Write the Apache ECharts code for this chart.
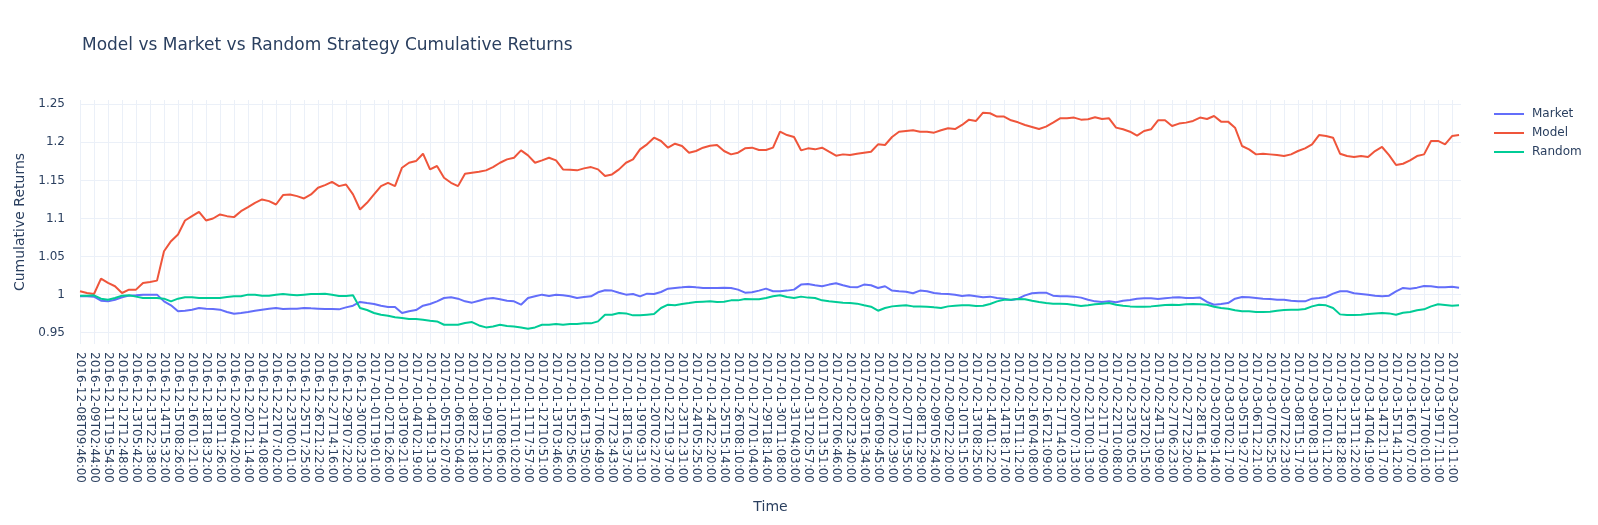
<!DOCTYPE html>
<html>
<head>
<meta charset="utf-8">
<script src="https://cdn.jsdelivr.net/npm/echarts@6/dist/echarts.min.js"></script>
<style>
html,body{margin:0;padding:0;background:#fff;}
#chart{width:1598px;height:525px;}
</style>
</head>
<body>
<div id="chart"></div>
<script>
const tickLabels = [
"2016-12-08T09:46:00","2016-12-09T02:44:00","2016-12-11T19:54:00","2016-12-12T12:48:00","2016-12-13T05:42:00",
"2016-12-13T22:38:00","2016-12-14T15:32:00","2016-12-15T08:26:00","2016-12-16T01:21:00","2016-12-18T18:32:00",
"2016-12-19T11:26:00","2016-12-20T04:20:00","2016-12-20T21:14:00","2016-12-21T14:08:00","2016-12-22T07:02:00",
"2016-12-23T00:01:00","2016-12-25T17:25:00","2016-12-26T21:22:00","2016-12-27T14:16:00","2016-12-29T07:22:00",
"2016-12-30T00:23:00","2017-01-01T19:01:00","2017-01-02T16:26:00","2017-01-03T09:21:00","2017-01-04T02:19:00",
"2017-01-04T19:13:00","2017-01-05T12:07:00","2017-01-06T05:04:00","2017-01-08T22:18:00","2017-01-09T15:12:00",
"2017-01-10T08:06:00","2017-01-11T01:02:00","2017-01-11T17:57:00","2017-01-12T10:51:00","2017-01-13T03:46:00",
"2017-01-15T20:56:00","2017-01-16T13:50:00","2017-01-17T06:49:00","2017-01-17T23:43:00","2017-01-18T16:37:00",
"2017-01-19T09:31:00","2017-01-20T02:27:00","2017-01-22T19:37:00","2017-01-23T12:31:00","2017-01-24T05:25:00",
"2017-01-24T22:20:00","2017-01-25T15:14:00","2017-01-26T08:10:00","2017-01-27T01:04:00","2017-01-29T18:14:00",
"2017-01-30T11:08:00","2017-01-31T04:03:00","2017-01-31T20:57:00","2017-02-01T13:51:00","2017-02-02T06:46:00",
"2017-02-02T23:40:00","2017-02-03T16:34:00","2017-02-06T09:45:00","2017-02-07T02:39:00","2017-02-07T19:35:00",
"2017-02-08T12:29:00","2017-02-09T05:24:00","2017-02-09T22:20:00","2017-02-10T15:15:00","2017-02-13T08:25:00",
"2017-02-14T01:22:00","2017-02-14T18:17:00","2017-02-15T11:12:00","2017-02-16T04:08:00","2017-02-16T21:09:00",
"2017-02-17T14:03:00","2017-02-20T07:13:00","2017-02-21T00:13:00","2017-02-21T17:09:00","2017-02-22T10:08:00",
"2017-02-23T03:05:00","2017-02-23T20:15:00","2017-02-24T13:09:00","2017-02-27T06:23:00","2017-02-27T23:20:00",
"2017-02-28T16:14:00","2017-03-02T09:14:00","2017-03-03T02:17:00","2017-03-05T19:27:00","2017-03-06T12:21:00",
"2017-03-07T05:25:00","2017-03-07T22:23:00","2017-03-08T15:17:00","2017-03-09T08:13:00","2017-03-10T01:12:00",
"2017-03-12T18:28:00","2017-03-13T11:22:00","2017-03-14T04:19:00","2017-03-14T21:17:00","2017-03-15T14:12:00",
"2017-03-16T07:07:00","2017-03-17T00:01:00","2017-03-19T17:11:00","2017-03-20T10:11:00"
];

// samples every half tick-label interval, starting at the first label
const sampleStep = 0.5;

const market = [
0.9978,0.9978,0.9974,0.9921,0.9912,0.9934,0.9965,0.9987,0.9991,1.0,
1.0,1.0,0.9912,0.986,0.9781,0.9789,0.9803,0.9825,0.9816,0.9811,
0.9803,0.9772,0.975,0.9759,0.9772,0.9789,0.9803,0.9816,0.9825,0.9811,
0.9816,0.9816,0.9825,0.982,0.9816,0.9811,0.9811,0.9807,0.9833,0.9855,
0.9904,0.989,0.9877,0.9855,0.9838,0.9838,0.9759,0.9781,0.9798,0.9855,
0.9877,0.9912,0.9956,0.9965,0.9947,0.9912,0.9895,0.9921,0.9947,0.9956,
0.9939,0.9921,0.9912,0.9868,0.9956,0.9978,1.0,0.9982,1.0,0.9991,
0.9978,0.9956,0.9969,0.9978,1.0031,1.0057,1.0053,1.0026,1.0,1.0009,
0.9978,1.0013,1.0009,1.0035,1.0079,1.0088,1.0096,1.0105,1.0096,1.0088,
1.0088,1.0088,1.0092,1.0088,1.0066,1.0026,1.0031,1.0053,1.0079,1.0044,
1.0044,1.0053,1.0066,1.0132,1.014,1.0123,1.011,1.0132,1.0149,1.0123,
1.0101,1.0096,1.0132,1.0123,1.0088,1.011,1.0053,1.0044,1.0039,1.0018,
1.0053,1.0044,1.0022,1.0013,1.0009,1.0,0.9982,0.9991,0.9978,0.9965,
0.9974,0.9956,0.9947,0.993,0.9947,0.9991,1.0018,1.0026,1.0026,0.9987,
0.9978,0.9978,0.9974,0.9961,0.9934,0.9912,0.9904,0.9912,0.9899,0.9921,
0.993,0.9947,0.9952,0.9952,0.9943,0.9952,0.9961,0.9965,0.9956,0.9956,
0.9961,0.9904,0.9868,0.9877,0.989,0.9947,0.9969,0.9965,0.9956,0.9947,
0.9943,0.9934,0.9934,0.9921,0.9912,0.9912,0.9947,0.9956,0.9969,1.0013,
1.0044,1.0044,1.0018,1.0009,1.0,0.9987,0.9978,0.9987,1.0044,1.0088,
1.0079,1.0092,1.0114,1.011,1.0096,1.0096,1.0105,1.0092
];

const model = [
1.0044,1.0022,1.0009,1.0211,1.0154,1.011,1.0022,1.0066,1.0066,1.0154,
1.0167,1.0184,1.057,1.0702,1.0789,1.0974,1.1031,1.1088,1.0974,1.1,
1.1053,1.1031,1.1018,1.1096,1.1149,1.1206,1.125,1.1228,1.1184,1.1307,
1.1316,1.1294,1.1263,1.1316,1.1404,1.1439,1.1482,1.1425,1.1447,1.1316,
1.1118,1.1206,1.1316,1.1425,1.1469,1.1425,1.1667,1.1732,1.1754,1.1851,
1.1645,1.1689,1.1535,1.1469,1.1425,1.1588,1.1601,1.1614,1.1632,1.1675,
1.1732,1.1776,1.1798,1.1895,1.1829,1.1732,1.1763,1.1798,1.1763,1.1645,
1.164,1.1632,1.1658,1.1675,1.1645,1.1557,1.1579,1.1645,1.1732,1.1776,
1.1908,1.1974,1.2061,1.2018,1.193,1.1982,1.1952,1.1864,1.1886,1.193,
1.1956,1.1965,1.1886,1.1842,1.1864,1.1921,1.193,1.1899,1.1899,1.193,
1.214,1.2096,1.207,1.1895,1.1921,1.1908,1.193,1.1877,1.1825,1.1842,
1.1833,1.1851,1.1864,1.1877,1.1974,1.1965,1.207,1.214,1.2149,1.2158,
1.214,1.214,1.2127,1.2158,1.2184,1.2175,1.2228,1.2298,1.2281,1.239,
1.2382,1.2338,1.2338,1.2289,1.2263,1.2228,1.2202,1.2175,1.2206,1.2259,
1.2316,1.2316,1.2325,1.2298,1.2303,1.2329,1.2307,1.2316,1.2193,1.2171,
1.214,1.2088,1.2149,1.2171,1.2289,1.2289,1.2215,1.2246,1.2259,1.2281,
1.2325,1.2307,1.2346,1.2272,1.2272,1.2193,1.1952,1.1908,1.1842,1.1851,
1.1842,1.1833,1.182,1.1842,1.1886,1.1921,1.1974,1.2096,1.2083,1.2061,
1.1851,1.182,1.1807,1.182,1.1807,1.1886,1.1939,1.1833,1.1702,1.1719,
1.1763,1.182,1.1842,1.2018,1.2018,1.1974,1.2083,1.2096
];

const random = [
0.9987,0.9987,0.9991,0.9947,0.9934,0.9956,0.9987,0.9991,0.9974,0.9956,
0.9956,0.9956,0.9947,0.9912,0.9947,0.9965,0.9965,0.9956,0.9956,0.9956,
0.9956,0.9969,0.9978,0.9978,1.0,1.0,0.9987,0.9987,1.0,1.0009,
1.0,0.9991,1.0,1.0009,1.0009,1.0013,1.0,0.9982,0.9982,0.9991,
0.9825,0.9798,0.9759,0.9737,0.9724,0.9702,0.9693,0.968,0.968,0.9671,
0.9658,0.9649,0.9605,0.9605,0.9605,0.9627,0.964,0.9596,0.957,0.9583,
0.9605,0.9588,0.9583,0.957,0.9553,0.957,0.9605,0.9605,0.9614,0.9605,
0.9614,0.9614,0.9623,0.9623,0.9649,0.9737,0.9737,0.9759,0.9754,0.9728,
0.9728,0.9737,0.9746,0.9825,0.9868,0.986,0.9877,0.989,0.9904,0.9908,
0.9912,0.9904,0.9908,0.9925,0.9925,0.9943,0.9939,0.9939,0.9956,0.9978,
0.9991,0.9969,0.9956,0.9974,0.9961,0.9956,0.9925,0.9912,0.9904,0.9895,
0.989,0.9882,0.986,0.9842,0.9789,0.9825,0.9846,0.9855,0.986,0.9846,
0.9846,0.9842,0.9833,0.9825,0.9846,0.9855,0.986,0.986,0.9851,0.9855,
0.9877,0.9912,0.9934,0.9934,0.9943,0.9939,0.9921,0.9904,0.989,0.9882,
0.9882,0.9877,0.9864,0.9851,0.986,0.9873,0.9882,0.989,0.9868,0.9855,
0.9846,0.9842,0.9842,0.9846,0.9855,0.9864,0.9868,0.9864,0.9873,0.9877,
0.9873,0.9868,0.9842,0.9825,0.9816,0.9794,0.9781,0.9781,0.9772,0.9772,
0.9776,0.9789,0.9798,0.9803,0.9803,0.9811,0.9846,0.9868,0.986,0.9825,
0.9741,0.9732,0.9732,0.9737,0.9746,0.9754,0.9759,0.9754,0.9737,0.9763,
0.9772,0.9794,0.9807,0.9846,0.9873,0.9864,0.9855,0.986
];

const yTicks = [0.95, 1, 1.05, 1.1, 1.15, 1.2, 1.25];

const toPoints = arr => arr.map((v, i) => [i * sampleStep, v]);
const tickIdx = tickLabels.map((_, i) => i);
const FONT = '"DejaVu Sans", Verdana, sans-serif';
const TXT = '#2a3f5f';
const GRIDC = '#EBF0F8';

const chart = echarts.init(document.getElementById('chart'), null, {renderer: 'canvas'});
chart.setOption({
  animation: false,
  backgroundColor: '#fff',
  textStyle: {fontFamily: FONT, color: TXT},
  title: {
    text: 'Model vs Market vs Random Strategy Cumulative Returns',
    left: 82, top: 37, padding: 0,
    textStyle: {fontFamily: FONT, fontSize: 17, fontWeight: 'normal', color: TXT}
  },
  legend: {
    orient: 'vertical',
    left: 1494, top: 107, padding: 0,
    itemWidth: 30, itemHeight: 2, itemGap: 5,
    icon: 'rect',
    textStyle: {fontFamily: FONT, fontSize: 12, color: TXT, lineHeight: 14, padding: [0, 0, 0, 3]},
    data: ['Market', 'Model', 'Random']
  },
  grid: {left: 80, top: 100, width: 1381, height: 244, containLabel: false},
  xAxis: {
    type: 'value',
    min: 0, max: 98.64,
    name: 'Time', nameLocation: 'middle', nameGap: 156,
    nameTextStyle: {fontFamily: FONT, fontSize: 14, color: TXT},
    axisLine: {show: false},
    axisTick: {show: false, customValues: tickIdx},
    splitLine: {show: true, lineStyle: {color: GRIDC, width: 1}},
    axisLabel: {
      customValues: tickIdx,
      rotate: -90, margin: 8,
      fontFamily: FONT, fontSize: 12, color: TXT,
      formatter: v => tickLabels[Math.round(v)] || ''
    }
  },
  yAxis: {
    type: 'value',
    min: 0.9352, max: 1.2556,
    name: 'Cumulative Returns', nameLocation: 'middle', nameGap: 50,
    nameTextStyle: {fontFamily: FONT, fontSize: 14, color: TXT},
    axisLine: {show: false},
    axisTick: {show: false, customValues: yTicks},
    splitLine: {show: true, lineStyle: {color: GRIDC, width: 1}},
    axisLabel: {
      customValues: yTicks,
      margin: 15,
      fontFamily: FONT, fontSize: 12, color: TXT,
      formatter: v => String(parseFloat(Number(v).toFixed(4)))
    }
  },
  series: [
    {name: 'Market', type: 'line', data: toPoints(market), showSymbol: false,
     color: '#636EFA', lineStyle: {width: 2, color: '#636EFA'}, itemStyle: {color: '#636EFA'}},
    {name: 'Model', type: 'line', data: toPoints(model), showSymbol: false,
     color: '#EF553B', lineStyle: {width: 2, color: '#EF553B'}, itemStyle: {color: '#EF553B'}},
    {name: 'Random', type: 'line', data: toPoints(random), showSymbol: false,
     color: '#00CC96', lineStyle: {width: 2, color: '#00CC96'}, itemStyle: {color: '#00CC96'}}
  ]
});
</script>
</body>
</html>
